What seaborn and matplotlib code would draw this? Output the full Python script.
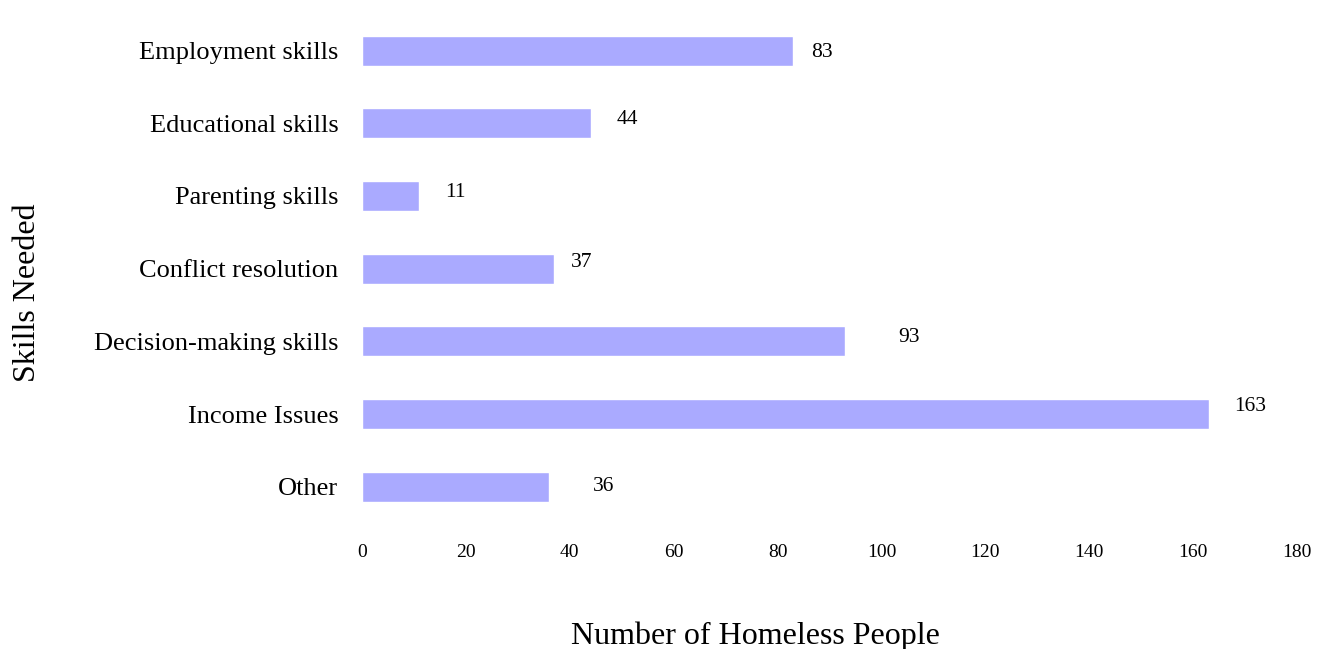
import matplotlib
matplotlib.use("Agg")
import matplotlib.pyplot as plt
import seaborn as sns
import pandas as pd

categories = ["Employment skills", "Educational skills", "Parenting skills",
              "Conflict resolution", "Decision-making skills", "Income Issues", "Other"]
values = [83, 44, 11, 37, 93, 163, 36]
label_offsets = [5.6, 7.0, 6.9, 5.2, 12.3, 8.0, 10.6]
label_dy = [0.03, -0.05, -0.05, -0.08, -0.05, -0.1, 0.0]
xticks = [0, 20, 40, 60, 80, 100, 120, 140, 160, 180]

sns.set_theme(style="white")
plt.rcParams['font.family'] = ['Liberation Serif', 'DejaVu Serif']
plt.rcParams['text.color'] = 'black'
plt.rcParams['axes.labelcolor'] = 'black'
plt.rcParams['xtick.color'] = 'black'
plt.rcParams['ytick.color'] = 'black'

df = pd.DataFrame({"cat": categories, "val": values})
fig = plt.figure(figsize=(13.24, 6.49), dpi=100)
ax = fig.add_axes([0.2734, 0.194, 0.7062, 0.784])
sns.barplot(data=df, y="cat", x="val", orient="h", color="#aaaaff",
            saturation=1, width=0.41, ax=ax)
for i, (v, o, dy) in enumerate(zip(values, label_offsets, label_dy)):
    ax.text(v + o, i + dy, str(v), ha="center", va="center", fontsize=15.5, color="black")
ax.set_xlim(0, 180)
ax.set_ylim(6.5, -0.5)
ax.set_xticks(xticks)
ax.set_xticklabels([str(t) for t in xticks], fontsize=14)
ax.tick_params(axis="y", labelsize=19, length=0, pad=17)
ax.tick_params(axis="x", length=0, pad=15)
for s in ax.spines.values():
    s.set_visible(False)
ax.set_xlabel("Number of Homeless People", fontsize=23)
ax.set_ylabel("Skills Needed", fontsize=23)
ax.xaxis.set_label_coords(0.421, -0.193)
ax.yaxis.set_label_coords(-0.3425, 0.452)
fig.savefig("out.png", dpi=100)
